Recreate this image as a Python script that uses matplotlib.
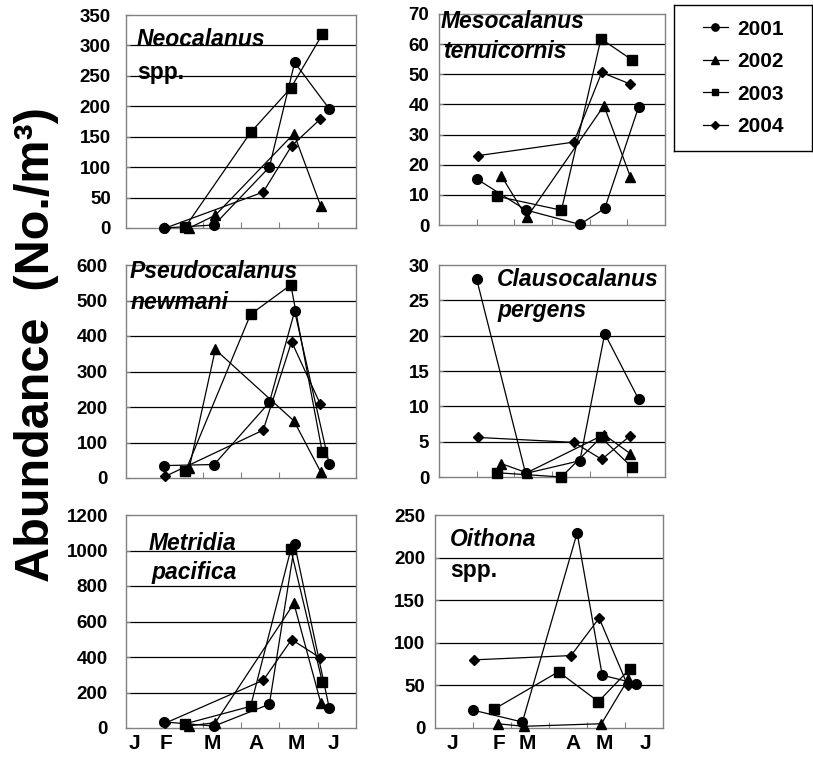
import matplotlib
matplotlib.use('Agg')
import matplotlib.pyplot as plt
from matplotlib.lines import Line2D

plt.rcParams['font.family'] = ['Liberation Sans', 'DejaVu Sans']
plt.rcParams['font.weight'] = 'bold'

# 采样时间（0=1月初 ... 6=7月初）
x2001 = [1.0, 2.3, 3.74, 4.4, 5.3]
x2002 = [1.65, 2.33, 4.38, 5.08]
x2003 = [1.55, 3.25, 4.3, 5.12]
x2004 = [1.03, 3.58, 4.32, 5.07]

# 各物种丰度
neo_2001 = [0, 5, 100, 272, 196]
neo_2002 = [0, 21, 155, 36]
neo_2003 = [2, 157, 230, 318]
neo_2004 = [0, 59, 135, 179]

meso_2001 = [15.3, 5, 0.2, 5.5, 39.2]
meso_2002 = [16.4, 2.5, 39.6, 16]
meso_2003 = [9.5, 4.9, 61.8, 54.8]
meso_2004 = [23, 27.5, 50.6, 46.8]

pseudo_2001 = [35, 38, 213, 470, 40]
pseudo_2002 = [28, 362, 161, 17]
pseudo_2003 = [19, 461, 544, 73]
pseudo_2004 = [5, 135, 384, 208]

claus_2001 = [28, 0.5, 2.3, 20.3, 11]
claus_2002 = [1.9, 0.6, 6, 3.3]
claus_2003 = [0.6, 0, 5.6, 1.4]
claus_2004 = [5.6, 4.9, 2.5, 5.8]

metr_2001 = [34, 11, 134, 1034, 115]
metr_2002 = [12, 30, 702, 143]
metr_2003 = [24, 122, 1006, 260]
metr_2004 = [28, 269, 498, 395]

oith_2001 = [21, 7, 229, 62, 52]
oith_2002 = [5, 2, 5, 57]
oith_2003 = [22, 66, 31, 69]
oith_2004 = [80, 85, 129, 50]

years = ['2001', '2002', '2003', '2004']
markers = {'2001': ('o', 7), '2002': ('^', 7), '2003': ('s', 6.5), '2004': ('D', 5)}
xs = {'2001': x2001, '2002': x2002, '2003': x2003, '2004': x2004}

month_labels = ['J', 'F', 'M', 'A', 'M', 'J']
month_pos_left = [0.21, 1.04, 2.25, 3.4, 4.43, 5.4]
month_pos_right = [0.45, 1.68, 2.43, 3.64, 4.45, 5.55]

W, H = 813, 758
fig = plt.figure(figsize=(W / 100, H / 100), dpi=100)


def px_axes(l, t, r, b):
    return fig.add_axes([l / W, 1 - b / H, (r - l) / W, (b - t) / H])


panels = [
    # (像素框, y上限, y步长, 数据, 标签pad)
    ((126, 15, 356, 228), 350, 50, [neo_2001, neo_2002, neo_2003, neo_2004], 11),
    ((439, 14, 665, 225), 70, 10, [meso_2001, meso_2002, meso_2003, meso_2004], 7),
    ((126, 265, 356, 478), 600, 100, [pseudo_2001, pseudo_2002, pseudo_2003, pseudo_2004], 13),
    ((439, 265, 665, 477), 30, 5, [claus_2001, claus_2002, claus_2003, claus_2004], 7),
    ((126, 515, 356, 728), 1200, 200, [metr_2001, metr_2002, metr_2003, metr_2004], 13),
    ((435, 515, 663, 728), 250, 50, [oith_2001, oith_2002, oith_2003, oith_2004], 7),
]

axes = []
for box, ymax, step, series, pad in panels:
    ax = px_axes(*box)
    for yr, ys in zip(years, series):
        m, ms = markers[yr]
        ax.plot(xs[yr], ys, color='black', lw=0.9, marker=m, ms=ms,
                clip_on=False, zorder=3)
    ax.set_xlim(0, 6)
    ax.set_ylim(0, ymax)
    yt = list(range(0, ymax + 1, step))
    ax.set_yticks(yt)
    ax.set_yticklabels([str(v) for v in yt], fontsize=13.5, fontweight='bold')
    for v in yt[1:-1]:
        ax.axhline(v, color='black', lw=0.9, zorder=1)
    ax.set_xticks([1, 2, 3, 4, 5])
    ax.set_xticklabels([])
    ax.tick_params(axis='x', direction='in', length=4, color='#808080')
    ax.tick_params(axis='y', direction='in', length=3, color='#808080', pad=pad)
    for s in ax.spines.values():
        s.set_color('#808080')
        s.set_linewidth(1)
    axes.append(ax)

# 月份标签
for ax, pos in ((axes[4], month_pos_left), (axes[5], month_pos_right)):
    for lab, p in zip(month_labels, pos):
        ax.text(p, -0.075, lab, transform=ax.get_xaxis_transform(),
                ha='center', va='center', fontsize=15, fontweight='bold')

# 物种名称
titles = [
    (137, 39, 'Neocalanus', 'italic'), (137, 72, 'spp.', 'normal'),
    (441, 21, 'Mesocalanus', 'italic'), (443, 51, 'tenuicornis', 'italic'),
    (130, 272, 'Pseudocalanus', 'italic'), (131, 303, 'newmani', 'italic'),
    (497, 280, 'Clausocalanus', 'italic'), (497, 310, 'pergens', 'italic'),
    (149, 543, 'Metridia', 'italic'), (151, 573, 'pacifica', 'italic'),
    (450, 540, 'Oithona', 'italic'), (450, 570, 'spp.', 'normal'),
]
for x, y, s, style in titles:
    fig.text(x / W, 1 - y / H, s, ha='left', va='center', fontsize=16.5,
             fontweight='bold', style=style)

fig.text(37 / W, 1 - 345 / H, 'Abundance  (No./m\u00b3)', rotation=90,
         ha='center', va='center', fontsize=35, fontweight='bold')

# 图例
lax = px_axes(674, 5, 812, 151)
lax.set_xticks([])
lax.set_yticks([])
for s in lax.spines.values():
    s.set_color('black')
    s.set_linewidth(1)
handles = [Line2D([], [], color='black', lw=0.9, marker=markers[y][0],
                  ms=markers[y][1] * 0.75) for y in years]
lax.legend(handles, years, loc='center', frameon=False,
           handlelength=1.2, handletextpad=0.45, labelspacing=0.65,
           prop={'weight': 'bold', 'size': 15})

fig.savefig('out.png', dpi=100)
